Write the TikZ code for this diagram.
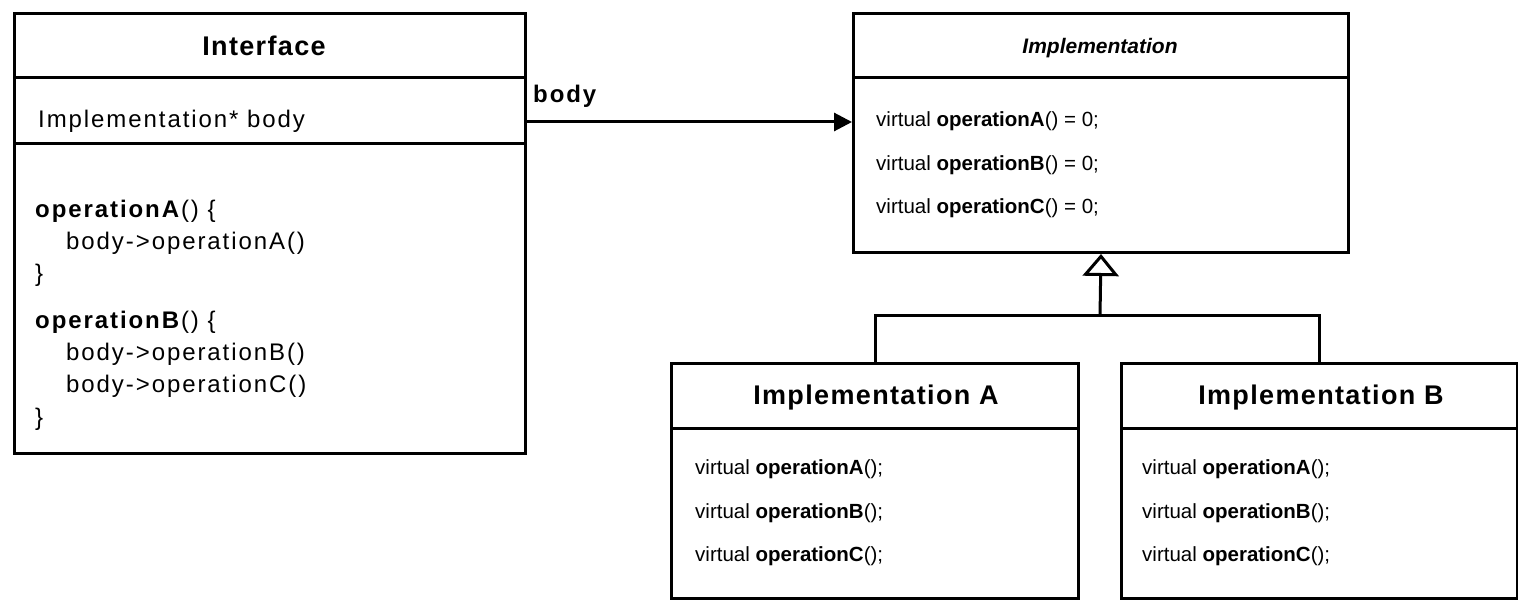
\documentclass[tikz,border=0pt]{standalone}
\usepackage{fontspec}
\setmainfont{Liberation Sans}
\newfontfamily\ifcfont[LetterSpace=8]{Liberation Sans}
\newfontfamily\ttlfont[LetterSpace=5]{Liberation Sans}
\usetikzlibrary{arrows.meta}
\tikzset{
  umlbox/.style={draw, line width=3pt, rectangle, inner sep=0pt, anchor=north west},
  sepline/.style={line width=3pt},
  conn/.style={line width=3pt},
  iftxt/.style={anchor=base west, inner sep=0pt, font=\ifcfont\fontsize{24}{28}\selectfont},
  imptxt/.style={anchor=base west, inner sep=0pt, font=\fontsize{20.5}{24}\selectfont},
  ttltxt/.style={anchor=base, inner sep=0pt, font=\ttlfont\bfseries\fontsize{27}{30}\selectfont},
}
\begin{document}
\begin{tikzpicture}[x=1pt,y=-1pt]
\useasboundingbox (0,0) rectangle (1518,601);
% boxes
\node[umlbox, minimum width=511pt, minimum height=440pt] (iface) at (13,12) {};
\node[umlbox, minimum width=495pt, minimum height=239pt] (impl) at (852,12) {};
\node[umlbox, minimum width=407pt, minimum height=235pt] (implA) at (670,362) {};
\node[umlbox, minimum width=396pt, minimum height=235pt] (implB) at (1120,362) {};
% separators
\draw[sepline] ([yshift=-66pt]iface.north west) -- ([yshift=-66pt]iface.north east);
\draw[sepline] ([yshift=-132pt]iface.north west) -- ([yshift=-132pt]iface.north east);
\draw[sepline] ([yshift=-66pt]impl.north west) -- ([yshift=-66pt]impl.north east);
\draw[sepline] ([yshift=-66pt]implA.north west) -- ([yshift=-66pt]implA.north east);
\draw[sepline] ([yshift=-66pt]implB.north west) -- ([yshift=-66pt]implB.north east);
% Interface texts
\node[ttltxt] (ifT) at (264,56) {Interface};
\node[iftxt] (if1) at (38,128) {Implementation* body};
\node[iftxt] (if2) at (35,218) {\textbf{operationA}() \{};
\node[iftxt] (if3) at (66,250) {body->operationA()};
\node[iftxt] (if4) at (35,282) {\}};
\node[iftxt] (if5) at (35,329) {\textbf{operationB}() \{};
\node[iftxt] (if6) at (66,361) {body->operationB()};
\node[iftxt] (if7) at (66,393) {body->operationC()};
\node[iftxt] (if8) at (35,425) {\}};
% Implementation texts
\node[anchor=base, inner sep=0pt, font=\bfseries\itshape\fontsize{21}{24}\selectfont] (imT) at (1100,54) {Implementation};
\node[imptxt] (im1) at (876,127) {virtual \textbf{operationA}() = 0;};
\node[imptxt] (im2) at (876,171) {virtual \textbf{operationB}() = 0;};
\node[imptxt] (im3) at (876,214) {virtual \textbf{operationC}() = 0;};
% Implementation A
\node[ttltxt] (aT) at (876,405) {Implementation A};
\node[imptxt] (a1) at (695,474) {virtual \textbf{operationA}();};
\node[imptxt] (a2) at (695,518) {virtual \textbf{operationB}();};
\node[imptxt] (a3) at (695,561) {virtual \textbf{operationC}();};
% Implementation B
\node[ttltxt] (bT) at (1321,405) {Implementation B};
\node[imptxt] (b1) at (1142,474) {virtual \textbf{operationA}();};
\node[imptxt] (b2) at (1142,518) {virtual \textbf{operationB}();};
\node[imptxt] (b3) at (1142,561) {virtual \textbf{operationC}();};
% association
\coordinate (ay) at (0,122);
\draw[conn, -{Triangle[length=18pt,width=18pt]}] (iface.east |- ay) -- (impl.west |- ay);
\node[anchor=base west, inner sep=0pt, font=\ifcfont\bfseries\fontsize{24}{28}\selectfont] (lbl) at (533,103) {body};
% generalization
\coordinate (jn) at (1100,316);
\draw[conn] (implA.north) |- (jn) -| (implB.north);
\draw[conn, -{Triangle[open,length=22pt,width=36pt,fill=white]}] (jn) -- (impl.south);
\end{tikzpicture}
\end{document}
